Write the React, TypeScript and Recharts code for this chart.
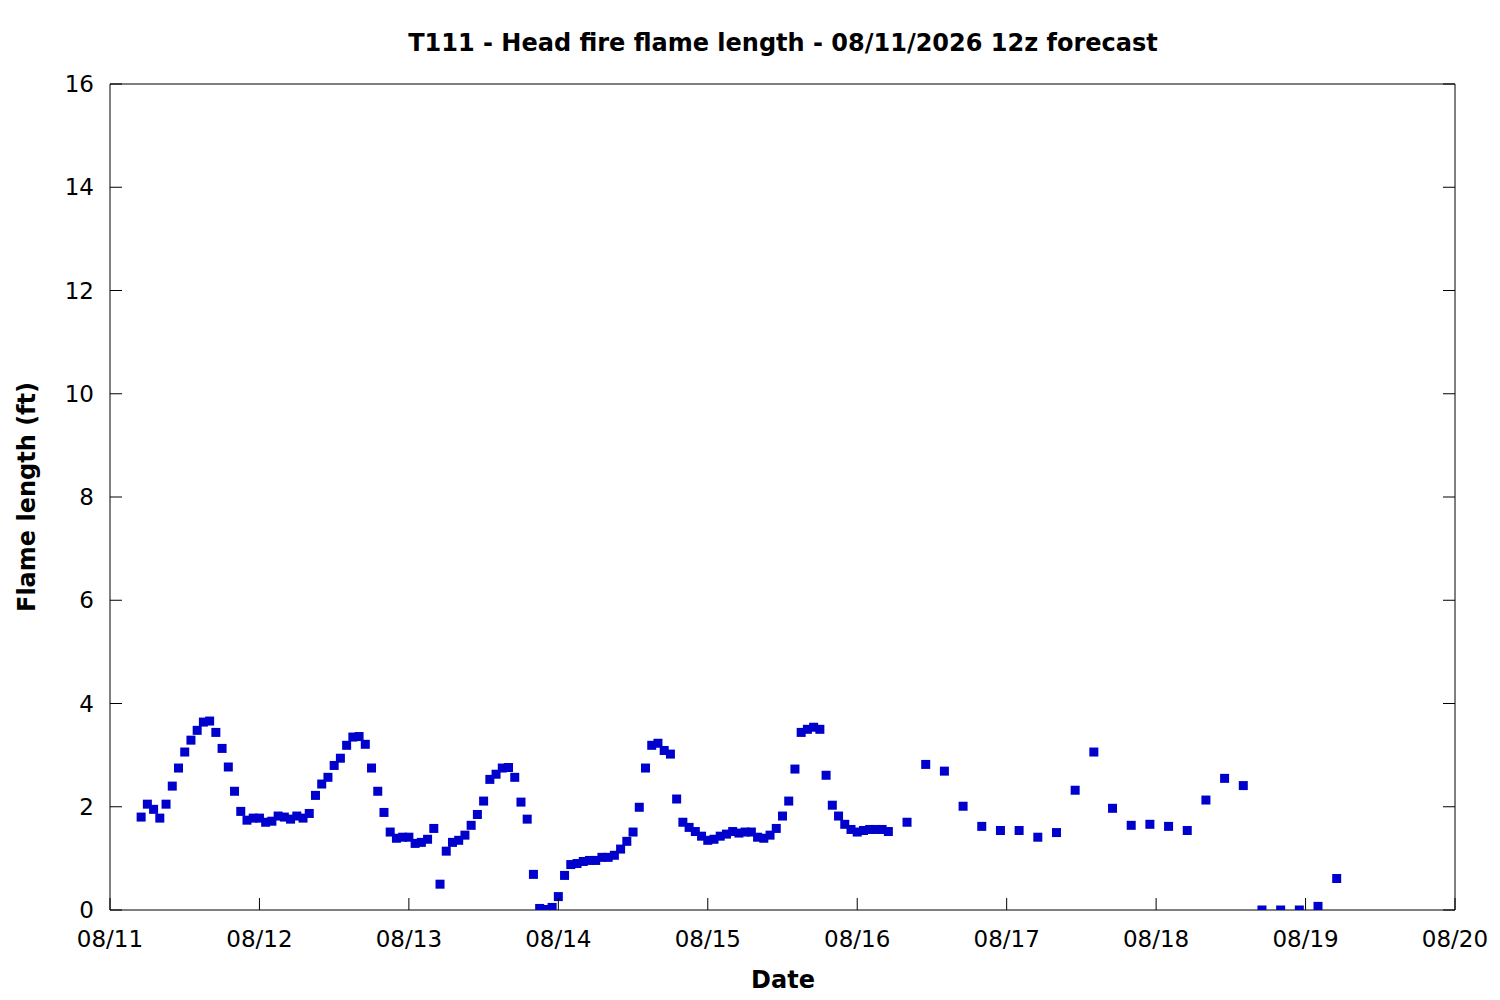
import React from 'react';
import { ScatterChart, Scatter, XAxis, YAxis } from 'recharts';

// Hours since 08/11 00:00
const hours = [
  5, 6, 7, 8, 9, 10, 11, 12, 13, 14, 15, 16, 17, 18, 19, 20, 21, 22, 23, 24,
  25, 26, 27, 28, 29, 30, 31, 32, 33, 34, 35, 36, 37, 38, 39, 40, 41, 42, 43, 44,
  45, 46, 47, 48, 49, 50, 51, 52, 53, 54, 55, 56, 57, 58, 59, 60, 61, 62, 63, 64,
  65, 66, 67, 68, 69, 70, 71, 72, 73, 74, 75, 76, 77, 78, 79, 80, 81, 82, 83, 84,
  85, 86, 87, 88, 89, 90, 91, 92, 93, 94, 95, 96, 97, 98, 99, 100, 101, 102, 103, 104,
  105, 106, 107, 108, 109, 110, 111, 112, 113, 114, 115, 116, 117, 118, 119, 120, 121, 122, 123, 124,
  125, 128, 131, 134, 137, 140, 143, 146, 149, 152, 155, 158, 161, 164, 167, 170, 173, 176, 179, 182,
  185, 188, 191, 194, 197,
];

// Flame length (ft)
const flameLength = [
  1.80, 2.05, 1.95, 1.78, 2.05, 2.40, 2.75, 3.06, 3.29, 3.48, 3.64, 3.66, 3.44, 3.13, 2.77, 2.30, 1.91, 1.74, 1.78, 1.78,
  1.70, 1.72, 1.82, 1.80, 1.76, 1.82, 1.78, 1.87, 2.22, 2.44, 2.57, 2.80, 2.94, 3.19, 3.35, 3.36, 3.21, 2.75, 2.30, 1.89,
  1.51, 1.39, 1.41, 1.41, 1.29, 1.31, 1.37, 1.58, 0.50, 1.14, 1.31, 1.35, 1.45, 1.64, 1.85, 2.11, 2.53, 2.63, 2.75, 2.76,
  2.57, 2.09, 1.76, 0.69, 0.03, 0.01, 0.05, 0.26, 0.67, 0.88, 0.90, 0.94, 0.96, 0.96, 1.02, 1.02, 1.06, 1.18, 1.33, 1.51,
  1.99, 2.75, 3.19, 3.23, 3.09, 3.02, 2.15, 1.70, 1.60, 1.52, 1.43, 1.35, 1.37, 1.43, 1.47, 1.52, 1.49, 1.51, 1.51, 1.41,
  1.39, 1.45, 1.58, 1.82, 2.11, 2.73, 3.44, 3.50, 3.54, 3.50, 2.61, 2.03, 1.82, 1.66, 1.56, 1.51, 1.54, 1.56, 1.56, 1.56,
  1.52, 1.70, 2.82, 2.69, 2.01, 1.62, 1.54, 1.54, 1.41, 1.50, 2.32, 3.06, 1.97, 1.64, 1.66, 1.62, 1.54, 2.13, 2.55, 2.41,
  0.0, 0.0, 0.0, 0.07, 0.61,
];

const xTicks = [0, 24, 48, 72, 96, 120, 144, 168, 192, 216];
const xTickLabels = ['08/11', '08/12', '08/13', '08/14', '08/15', '08/16', '08/17', '08/18', '08/19', '08/20'];
const yTicks = [0, 2, 4, 6, 8, 10, 12, 14, 16];

const titleText = 'T111 - Head fire flame length - 08/11/2026 12z forecast';
const xLabelText = 'Date';
const yLabelText = 'Flame length (ft)';

const data = hours.map((h, i) => ({ h, v: flameLength[i] }));

const FONT = '"DejaVu Sans", sans-serif';
const MARK = '#0000cd';
const TICK_LEN = 12;
const TICK_FONT = 23;

const Square = (props: any) => {
  const { cx, cy } = props;
  if (cx == null || cy == null) return null;
  return <rect x={cx - 4.5} y={cy - 4.5} width={9} height={9} fill={MARK} />;
};

// Bottom axis: y is the plot bottom (tickSize 0, tickMargin 0)
const BottomTick = (props: any) => {
  const { x, y, payload } = props;
  const label = xTickLabels[xTicks.indexOf(payload.value)] ?? '';
  return (
    <g>
      <line x1={x} x2={x} y1={y} y2={y - TICK_LEN} stroke="#000" strokeWidth={1} />
      <text x={x} y={y + 37} textAnchor="middle" fontFamily={FONT} fontSize={TICK_FONT} fill="#000">
        {label}
      </text>
    </g>
  );
};

const TopTick = (props: any) => {
  const { x, y } = props;
  return <line x1={x} x2={x} y1={y} y2={y + TICK_LEN} stroke="#000" strokeWidth={1} />;
};

// Left axis: x is the plot left
const LeftTick = (props: any) => {
  const { x, y, payload } = props;
  return (
    <g>
      <line x1={x} x2={x + TICK_LEN} y1={y} y2={y} stroke="#000" strokeWidth={1} />
      <text x={x - 16} y={y + 8} textAnchor="end" fontFamily={FONT} fontSize={TICK_FONT} fill="#000">
        {payload.value}
      </text>
    </g>
  );
};

const RightTick = (props: any) => {
  const { x, y } = props;
  return <line x1={x} x2={x - TICK_LEN} y1={y} y2={y} stroke="#000" strokeWidth={1} />;
};

export default function App() {
  return (
    <div style={{ position: 'absolute', left: 0, top: 0, width: 1500, height: 1000, background: '#fff' }}>
      <ScatterChart
        width={1500}
        height={1000}
        margin={{ top: 83, right: 44, bottom: 60, left: 50 }}
      >
        <XAxis
          xAxisId="b"
          type="number"
          dataKey="h"
          domain={[0, 216]}
          ticks={xTicks}
          interval={0}
          height={30}
          tickSize={0}
          tickMargin={0}
          tickLine={false}
          stroke="#000"
          tick={BottomTick}
          allowDataOverflow
        />
        <XAxis
          xAxisId="t"
          orientation="top"
          type="number"
          domain={[0, 216]}
          ticks={xTicks}
          interval={0}
          height={1}
          tickSize={0}
          tickMargin={0}
          tickLine={false}
          tick={TopTick}
          stroke="#000"
          allowDataOverflow
        />
        <YAxis
          yAxisId="l"
          type="number"
          dataKey="v"
          domain={[0, 16]}
          ticks={yTicks}
          interval={0}
          width={60}
          tickSize={0}
          tickMargin={0}
          tickLine={false}
          stroke="#000"
          tick={LeftTick}
          allowDataOverflow
        />
        <YAxis
          yAxisId="r"
          orientation="right"
          type="number"
          domain={[0, 16]}
          ticks={yTicks}
          interval={0}
          width={1}
          tickSize={0}
          tickMargin={0}
          tickLine={false}
          tick={RightTick}
          stroke="#000"
          allowDataOverflow
        />
        <Scatter
          xAxisId="b"
          yAxisId="l"
          data={data}
          dataKey="v"
          fill={MARK}
          shape={Square}
          isAnimationActive={false}
        />
      </ScatterChart>
      <div
        style={{
          position: 'absolute', left: 283, top: 31, width: 1000, height: 24,
          lineHeight: '24px', textAlign: 'center', fontFamily: FONT, fontWeight: 'bold', fontSize: 24, color: '#000',
        }}
      >
        {titleText}
      </div>
      <div
        style={{
          position: 'absolute', left: 583, top: 968, width: 400, height: 24,
          lineHeight: '24px', textAlign: 'center', fontFamily: FONT, fontWeight: 'bold', fontSize: 24, color: '#000',
        }}
      >
        {xLabelText}
      </div>
      <div
        style={{
          position: 'absolute', left: 27 - 200, top: 497 - 12, width: 400, height: 24,
          lineHeight: '24px', textAlign: 'center', fontFamily: FONT, fontWeight: 'bold', fontSize: 24, color: '#000',
          transform: 'rotate(-90deg)', transformOrigin: '200px 12px',
        }}
      >
        {yLabelText}
      </div>
    </div>
  );
}
